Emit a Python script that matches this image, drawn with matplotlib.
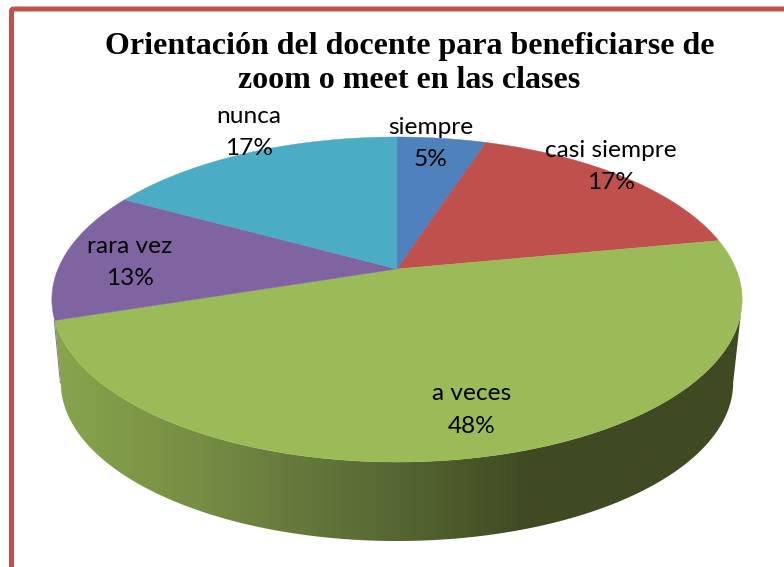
import numpy as np
import matplotlib
matplotlib.use('Agg')
import matplotlib.pyplot as plt
from matplotlib.colors import LinearSegmentedColormap
from matplotlib.patches import FancyBboxPatch, Polygon

title = 'Orientación del docente para beneficiarse de\nzoom o meet en las clases'
categories = ['siempre', 'casi siempre', 'a veces', 'rara vez', 'nunca']
values = [5, 17, 48, 13, 17]
colors = ['#4f81bd', '#c0504d', '#9bbb59', '#8064a2', '#4bacc6']

# posicion de cada etiqueta en pixeles
label_pos = [(430.5, 143.5), (611, 166.5), (472, 410), (130, 262.5), (249, 132.5)]

# geometria de la tarta en perspectiva (pixeles)
CX, CY = 397, 269
A, B, K = 339, 156.8, 0.1877
LOW_CY, LOW_S = 353, 0.974


def rim(theta, cy=CY, s=1.0):
    # angulo en grados desde arriba, sentido horario
    t = np.radians(theta)
    u, v = np.sin(t), -np.cos(t)
    w = 1 - K * v
    return CX + s * A * u / w, cy + s * B * v / w


fig = plt.figure(figsize=(7.84, 5.67), dpi=100)
ax = fig.add_axes([0, 0, 1, 1])
ax.set_xlim(0, 784)
ax.set_ylim(567, 0)
ax.axis('off')

# marco
ax.add_patch(FancyBboxPatch((11.5, 9), 800, 600, boxstyle='round,pad=0,rounding_size=2',
                            fill=False, ec='#c0504d', lw=3.6))

edges = np.cumsum([0] + values) / sum(values) * 360

# pared lateral
end_green = edges[3]
top_t = np.linspace(105.5, end_green, 200)
low_t = np.linspace(259.2, 100.8, 200)
xs = np.r_[rim(top_t)[0], rim(low_t, LOW_CY, LOW_S)[0]]
ys = np.r_[rim(top_t)[1], rim(low_t, LOW_CY, LOW_S)[1]]

# hilo morado a la izquierda de la pared
x0, y0 = rim(end_green)
x1, y1 = rim(259.2, LOW_CY, LOW_S)
ax.plot([x0 - 0.4, x1 - 0.4], [y0, y1], color='#8064a2', lw=0.7, zorder=1)

stops = [(50, '#88a64d'), (200, '#768d43'), (280, '#697c3e'), (400, '#556631'),
         (530, '#3f4a23'), (745, '#3f4a23')]
cmap = LinearSegmentedColormap.from_list(
    'wall', [((p - 50) / (745 - 50), c) for p, c in stops])
grad = np.linspace(0, 1, 512).reshape(1, -1)
im = ax.imshow(grad, cmap=cmap, extent=[50, 745, 567, 250], aspect='auto', zorder=2)
wall = Polygon(np.c_[xs, ys], closed=True, transform=ax.transData, fc='none', ec='none')
ax.add_patch(wall)
im.set_clip_path(wall)
ax.set_xlim(0, 784)
ax.set_ylim(567, 0)

# sectores superiores
for i, c in enumerate(colors):
    t = np.linspace(edges[i], edges[i + 1], 200)
    x, y = rim(t)
    ax.fill(np.r_[CX, x], np.r_[CY, y], color=c, lw=0.3, zorder=3)

# etiquetas
for name, val, (lx, ly) in zip(categories, values, label_pos):
    ax.text(lx, ly, '%s\n%d%%' % (name, val), ha='center', va='center', fontsize=17.6,
            family='Lato', linespacing=1.68, color='black', zorder=4)

ax.text(409.5, 63.5, title, ha='center', va='center', fontsize=23, fontweight='bold',
        family='Liberation Serif', linespacing=1.27, color='black', zorder=4)

fig.savefig('out.png', dpi=100)
